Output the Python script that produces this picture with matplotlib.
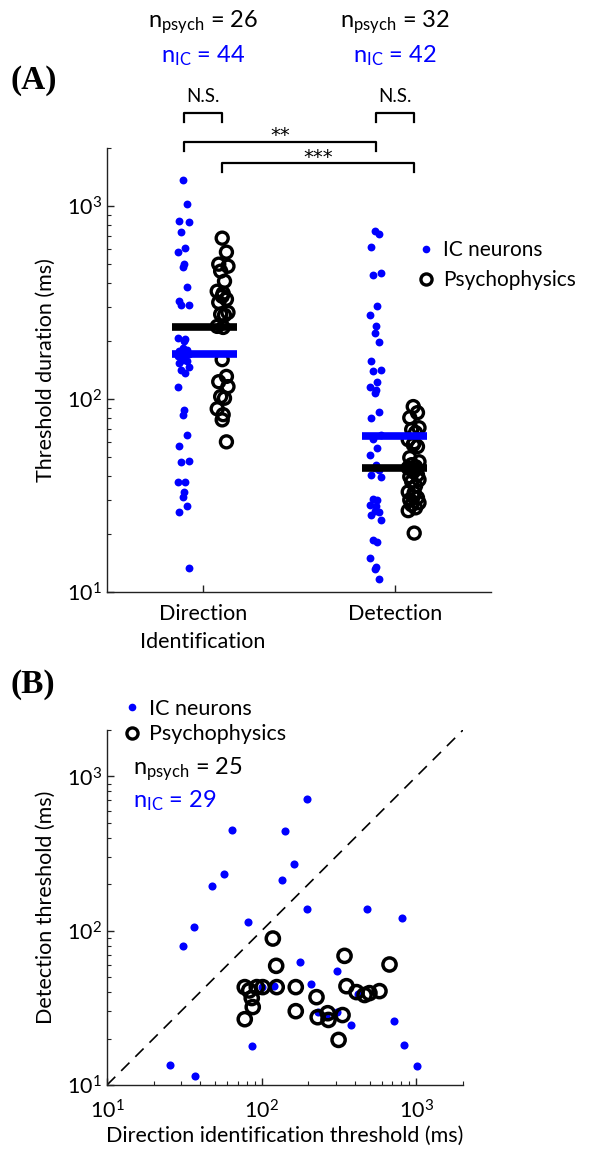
import numpy as np
import matplotlib.pyplot as plt
from matplotlib.lines import Line2D
from matplotlib import transforms
from matplotlib.ticker import LogLocator, LogFormatterSciNotation, NullFormatter

plt.rcParams['font.family'] = 'Lato'
plt.rcParams['mathtext.fontset'] = 'custom'
plt.rcParams['mathtext.rm'] = 'Lato'
plt.rcParams['mathtext.it'] = 'Lato'
plt.rcParams['mathtext.bf'] = 'Lato:bold'

# threshold durations (ms), panel A
dir_ic = [1365, 1024, 836, 826, 733, 605, 577, 500, 482, 379, 321, 306, 306,
          204, 206, 199, 183, 179, 177, 172, 175, 170, 168, 165, 160, 157, 153,
          146, 142, 137, 116, 88, 83, 65, 57, 48, 47, 37, 37, 33, 31, 28, 26, 13.3]
dir_psych = [682, 577, 500, 488, 460, 408, 362, 353, 341, 329, 317, 281, 275,
             272, 238, 235, 160, 131, 123, 116, 103, 101, 89, 83, 78, 60]
det_ic = [741, 716, 612, 449, 438, 302, 272, 238, 219, 197, 157, 141, 139, 123,
          115, 111, 107, 86, 80, 65, 62, 56, 51.5, 45.7, 44, 43, 40.5, 39.6, 30.4,
          30, 28.3, 28, 26.4, 26, 25.1, 23.7, 18.6, 18.2, 15, 13.5, 13.2, 11.7]
det_psych = [91.4, 85, 80, 71, 69.5, 67, 61.6, 59.4, 58, 56.7, 49.7, 47.3, 45.7,
             44.6, 44, 43, 42, 40.5, 39.6, 38.2, 37.3, 35.5, 33, 32.7, 31.2, 30.8,
             30, 29, 28.3, 27.3, 26.4, 20.2]
# group levels drawn as horizontal bars
dir_ic_level, dir_psych_level = 172, 235
det_ic_level, det_psych_level = 64, 44

categories = ['Direction\nIdentification', 'Detection']
n_psych_a = [26, 32]
n_ic_a = [44, 42]

# panel B: (direction threshold, detection threshold)
ic_dir = [196, 63.8, 142, 162, 57, 135, 47.8, 196, 478, 804, 36.3, 81.6, 30.8,
          178, 305, 209, 230, 305, 375, 718, 87.1, 828, 25.6, 36.8, 1011,
          100, 120, 420, 260]
ic_det = [717, 447, 441, 269, 232, 214, 194, 138, 138, 121, 106, 113.5, 79.4,
          62.8, 54.7, 44.9, 29.7, 29.7, 24.4, 25.8, 18, 18.2, 13.5, 11.4, 13.2,
          43, 44, 39, 28]
psych_dir = [118, 343, 124, 670, 77.7, 92.9, 101.5, 125, 86.2, 87.5, 77.7, 166,
             166, 226, 230, 267, 270, 333, 314, 353, 410, 462, 497, 577, 83]
psych_det = [89, 68.7, 59.2, 60.4, 43.1, 43.1, 43.1, 43.1, 36.6, 32, 26.7, 43.1,
             30.1, 37.1, 27.5, 29.2, 26.4, 28.4, 19.6, 43.7, 40, 38.3, 39.4, 40.6, 41]

W, H = 603, 1153
BLUE = (0, 0, 1)
FS = 15


def fx(x):
    return x / W


def fy(y):
    return 1 - y / H


def spread(n, center):
    pattern = np.array([0.0, 0.022, -0.018, 0.03, -0.008, 0.012, -0.026, 0.005])
    return center + pattern[np.arange(n) % len(pattern)]


def style_log_axis(axis):
    axis.set_major_locator(LogLocator(base=10))
    axis.set_minor_locator(LogLocator(base=10, subs=np.arange(2, 10)))
    axis.set_major_formatter(LogFormatterSciNotation())
    axis.set_minor_formatter(NullFormatter())


def style_axes(ax):
    for side in ['top', 'right']:
        ax.spines[side].set_visible(False)
    for side in ['left', 'bottom']:
        ax.spines[side].set_linewidth(1.0)
        ax.spines[side].set_color('#222222')
    ax.tick_params(which='major', direction='in', length=5, width=1.0,
                   labelsize=FS + 0.5, color='#222222')
    ax.tick_params(which='minor', direction='in', length=3, width=0.8,
                   color='#222222')


fig = plt.figure(figsize=(W / 100, H / 100), dpi=100)

# ---------------- panel A
axA = fig.add_axes([fx(107), fy(592), (491 - 107) / W, (592 - 148) / H])
ic_kw = dict(s=32, color=BLUE, linewidths=0, zorder=2)
ps_kw = dict(s=75, facecolors='none', edgecolors='k', linewidths=2.4, zorder=3)
axA.scatter(spread(len(dir_ic), 0.895), dir_ic, **ic_kw)
axA.scatter(spread(len(dir_psych), 1.1), dir_psych, **ps_kw)
axA.scatter(spread(len(det_ic), 1.895), det_ic, **ic_kw)
axA.scatter(spread(len(det_psych), 2.095), det_psych, **ps_kw)

bar_lw = 5.5
axA.plot([0.84, 1.175], [dir_psych_level] * 2, color='k', lw=bar_lw, solid_capstyle='butt', zorder=4)
axA.plot([0.84, 1.175], [dir_ic_level] * 2, color=BLUE, lw=bar_lw, solid_capstyle='butt', zorder=4)
axA.plot([1.83, 2.165], [det_psych_level] * 2, color='k', lw=bar_lw, solid_capstyle='butt', zorder=4)
axA.plot([1.83, 2.165], [det_ic_level] * 2, color=BLUE, lw=bar_lw, solid_capstyle='butt', zorder=4)

axA.set_yscale('log')
axA.set_xlim(0.5, 2.5)
axA.set_ylim(10, 2000)
style_log_axis(axA.yaxis)
axA.set_xticks([1, 2])
axA.set_xticklabels(categories, fontsize=FS + 0.5, linespacing=1.45)
axA.tick_params(axis='x', pad=9)
axA.set_ylabel('Threshold duration (ms)', fontsize=FS + 0.5, labelpad=8)
style_axes(axA)

# significance brackets above the groups
mix = transforms.blended_transform_factory(axA.transData, axA.transAxes)


def frac(ypix):
    return (592 - ypix) / 444


def bracket(x0, x1, ytop, ybot, label, ytext, **kw):
    axA.plot([x0, x0, x1, x1], [frac(ybot), frac(ytop), frac(ytop), frac(ybot)],
             color='k', lw=1.6, transform=mix, clip_on=False)
    axA.text((x0 + x1) / 2, frac(ytext), label, ha='center', va='center',
             transform=mix, **kw)


bracket(0.9, 1.1, 113, 122, 'N.S.', 97, fontsize=13.5)
bracket(1.9, 2.1, 113, 122, 'N.S.', 97, fontsize=13.5)
bracket(0.9, 1.9, 142, 151, '**', 135, fontsize=14, family='DejaVu Sans')
bracket(1.1, 2.1, 163, 172, '***', 157, fontsize=14, family='DejaVu Sans')

top = transforms.blended_transform_factory(axA.transData, fig.transFigure)
for xc, npsy, nic in zip([1, 2], n_psych_a, n_ic_a):
    axA.text(xc, fy(27), r'n$_{\mathrm{psych}}$ = %d' % npsy, ha='center',
             va='baseline', fontsize=17, transform=top)
    axA.text(xc, fy(62), r'n$_{\mathrm{IC}}$ = %d' % nic, ha='center',
             va='baseline', fontsize=17, color=BLUE, transform=top)

handles = [Line2D([], [], ls='none', marker='o', ms=5.5, mfc=BLUE, mec='none'),
           Line2D([], [], ls='none', marker='o', ms=8, mfc='none', mec='k', mew=2.4)]
axA.legend(handles, ['IC neurons', 'Psychophysics'], loc='upper left',
           bbox_to_anchor=(fx(418), fy(240)), bbox_transform=fig.transFigure,
           frameon=False, fontsize=FS, handlelength=0.8, handletextpad=0.4,
           labelspacing=0.5, borderpad=0, borderaxespad=0)

fig.text(fx(10), fy(80), '(A)', family='Liberation Serif', weight='bold',
         fontsize=24, va='center')

# ---------------- panel B
axB = fig.add_axes([fx(107), fy(1085), (463 - 107) / W, (1085 - 730) / H])
axB.plot([10, 2000], [10, 2000], color='k', lw=1.2, dashes=(7, 5), zorder=1)
axB.scatter(ic_dir, ic_det, s=34, color=BLUE, linewidths=0, zorder=2)
axB.scatter(psych_dir, psych_det, s=90, facecolors='none', edgecolors='k',
            linewidths=2.5, zorder=3)
axB.set_xscale('log')
axB.set_yscale('log')
axB.set_xlim(10, 2000)
axB.set_ylim(10, 2000)
style_log_axis(axB.xaxis)
style_log_axis(axB.yaxis)
axB.set_xlabel('Direction identification threshold (ms)', fontsize=FS + 0.5, labelpad=3)
axB.set_ylabel('Detection threshold (ms)', fontsize=FS + 0.5, labelpad=8)
style_axes(axB)
axB.tick_params(axis='x', pad=10)

handlesB = [Line2D([], [], ls='none', marker='o', ms=5.5, mfc=BLUE, mec='none'),
            Line2D([], [], ls='none', marker='o', ms=8, mfc='none', mec='k', mew=2.4)]
fig.legend(handlesB, ['IC neurons', 'Psychophysics'], loc='upper left',
           bbox_to_anchor=(fx(123), fy(699)), frameon=False, fontsize=FS + 0.5,
           handlelength=0.8, handletextpad=0.4, labelspacing=0.25,
           borderpad=0, borderaxespad=0)
fig.text(fx(133), fy(774), r'n$_{\mathrm{psych}}$ = 25', fontsize=17, va='baseline')
fig.text(fx(133), fy(807), r'n$_{\mathrm{IC}}$ = 29', fontsize=17, va='baseline',
         color=BLUE)

fig.text(fx(10), fy(685), '(B)', family='Liberation Serif', weight='bold',
         fontsize=24, va='center')

fig.savefig('out.png', dpi=100)
